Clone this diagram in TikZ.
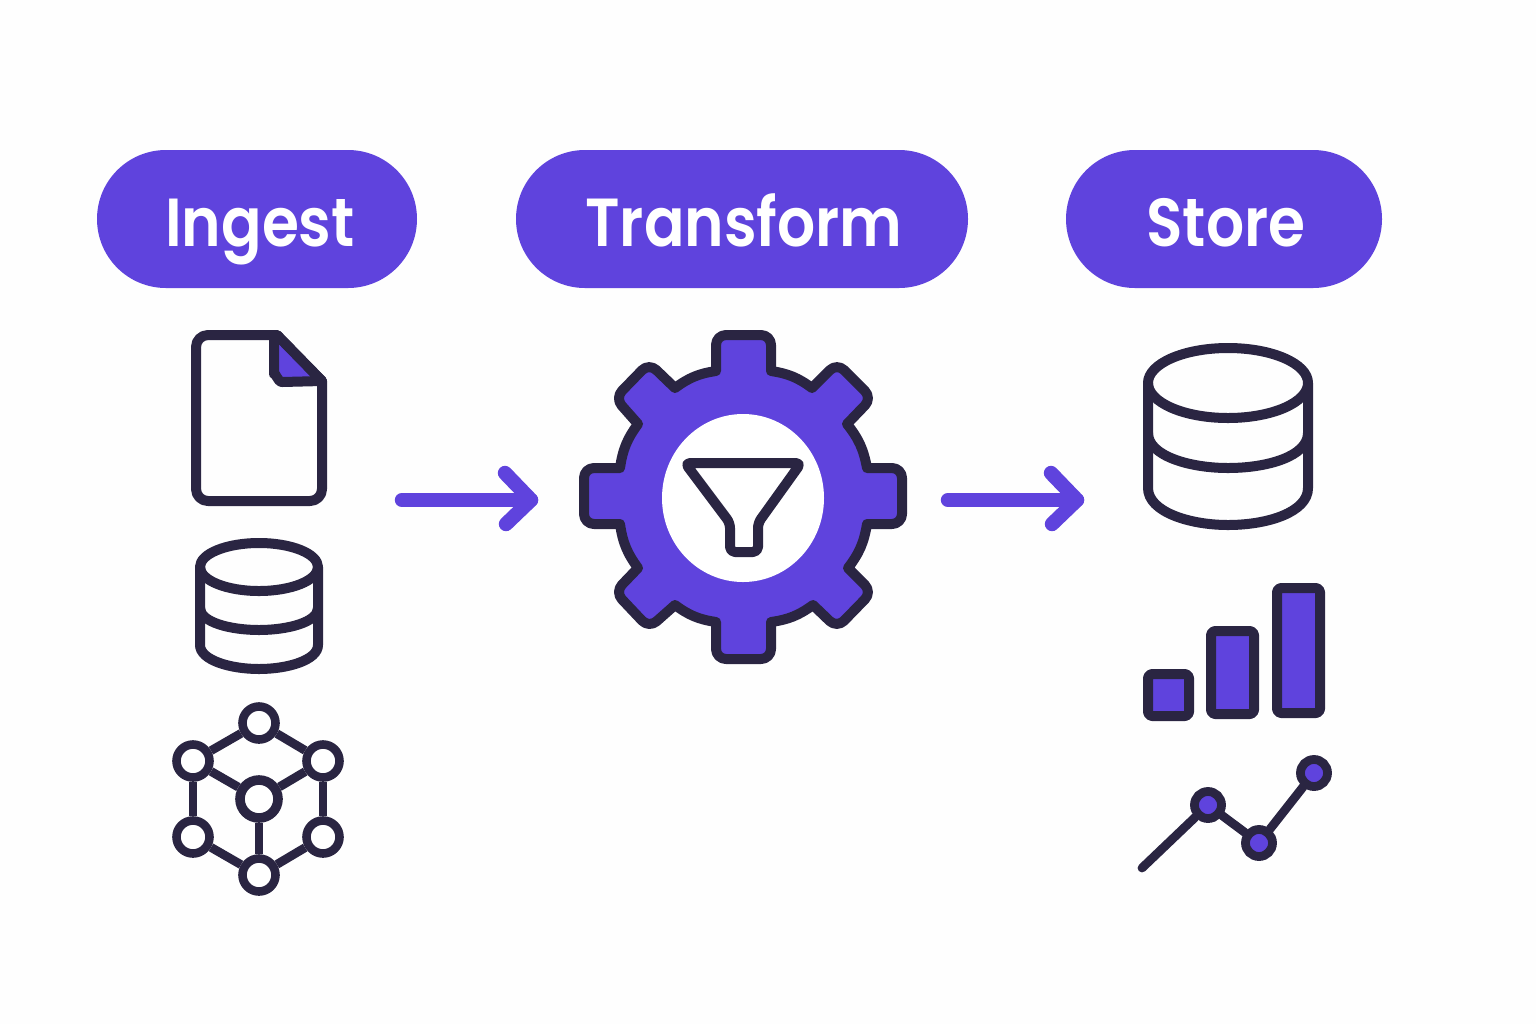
\documentclass[tikz,border=0pt]{standalone}
\usepackage{fontspec}
\newfontfamily\pillfont[UprightFont=* SemiBold,FakeStretch=0.88]{Poppins}
\definecolor{violet}{HTML}{5F43DD}
\definecolor{ink}{HTML}{2A2542}
\tikzset{
  pill/.style={fill=violet,rounded corners=34.5pt,minimum height=69pt,text=white,inner sep=0pt,text height=27pt,text depth=0pt,font=\pillfont\fontsize{34pt}{34pt}\selectfont},
  icon/.style={draw=ink,line width=5pt,line join=round,line cap=round},
  thin icon/.style={draw=ink,line width=4.4pt,line join=round,line cap=round},
  flow/.style={draw=violet,line width=7.2pt,line cap=round,line join=round},
  hub/.style={circle,draw=ink,line width=4.3pt,fill=white,minimum size=16.5pt,inner sep=0pt},
  bighub/.style={circle,draw=ink,line width=4.8pt,fill=white,minimum size=19pt,inner sep=0pt},
  dot/.style={circle,draw=ink,line width=4.4pt,fill=violet,minimum size=13.5pt,inner sep=0pt},
}
\begin{document}
\begin{tikzpicture}[x=0.5pt,y=-0.5pt]
\useasboundingbox (0,0) rectangle (1536,1024);
\fill[white!99.5!black] (0,0) rectangle (1536,1024);
% pills
\node[pill,minimum width=160pt] (ingest) at (257,219) {\hspace*{3pt}Ingest};
\node[pill,minimum width=226pt] (transform) at (742,219) {\hspace*{2pt}Transform};
\node[pill,minimum width=158pt] (store) at (1224,219) {\hspace*{2pt}Store};
% document
\draw[icon,fill=violet] (277,335) -- (322,381) -- (282,382) to[out=180,in=90] (274,374) -- (274,335) -- cycle;
\draw[icon] (277,335) -- (208,335) to[out=180,in=90] (196,347) -- (196,489) to[out=-90,in=180] (208,501) -- (310,501) to[out=0,in=-90] (322,489) -- (322,381) -- cycle;
% small cylinder
\draw[icon] (200,567) -- (200,645) .. controls (200,660) and (230,669) .. (259,669) .. controls (288,669) and (318,660) .. (318,645) -- (318,567);
\draw[icon] (200,608) .. controls (200,622) and (230,630) .. (259,630) .. controls (288,630) and (318,622) .. (318,608);
\draw[icon] (259,567) ellipse[x radius=59,y radius=24];
% network
\node[hub] (n1) at (259,723) {};
\node[hub] (n2) at (193,761) {};
\node[hub] (n3) at (323,761) {};
\node[hub] (n4) at (193,837) {};
\node[hub] (n5) at (323,837) {};
\node[hub] (n6) at (259,875) {};
\node[bighub] (n0) at (259,799) {};
\foreach \a/\b in {n1/n2,n1/n3,n2/n0,n3/n0,n2/n4,n3/n5,n4/n6,n5/n6,n0/n6} \draw[thin icon,line cap=butt] (\a) -- (\b);
% gear
\draw[icon,fill=violet]
 (771,371) to[bend left=14] (812,388)
 [rounded corners=5pt] -- (837,363) -- (872,398) [sharp corners] -- (847,424) to[bend left=14] (867,468)
 [rounded corners=5pt] -- (902,468) -- (902,524) [sharp corners] -- (867,524) to[bend left=14] (848,568)
 [rounded corners=5pt] -- (872,592) -- (837,628) [sharp corners] -- (813,605) to[bend left=14] (771,622)
 [rounded corners=5pt] -- (771,659) -- (716,659) [sharp corners] -- (716,622) to[bend left=14] (675,605)
 [rounded corners=5pt] -- (649,628) -- (615,592) [sharp corners] -- (638,568) to[bend left=14] (620,524)
 [rounded corners=5pt] -- (584,524) -- (584,468) [sharp corners] -- (620,468) to[bend left=14] (638,424)
 [rounded corners=5pt] -- (615,398) -- (649,363) [sharp corners] -- (675,388) to[bend left=14] (716,371)
 [rounded corners=5pt] -- (716,335) -- (771,335) [sharp corners] -- cycle;
\fill[white] (743,498) ellipse[x radius=81,y radius=84];
\draw[icon,rounded corners=2.5pt] (685,463) -- (801,463) -- (758,523) -- (758,552) -- (730,552) -- (730,523) -- cycle;
% arrows
\coordinate (a1s) at (402,500); \coordinate (a1e) at (531,500);
\coordinate (a2s) at (948,500); \coordinate (a2e) at (1077,500);
\draw[flow] (a1s) -- (a1e);
\draw[flow] ([shift={(-26,-27)}]a1e) -- (a1e) -- ([shift={(-25,24)}]a1e);
\draw[flow] (a2s) -- (a2e);
\draw[flow] ([shift={(-26,-27)}]a2e) -- (a2e) -- ([shift={(-25,24)}]a2e);
% big cylinder
\draw[icon] (1148,383) -- (1148,488) .. controls (1148,512) and (1190,525) .. (1228,525) .. controls (1268,525) and (1308,512) .. (1308,488) -- (1308,383);
\draw[icon] (1148,433) .. controls (1148,456) and (1190,468) .. (1228,468) .. controls (1268,468) and (1308,456) .. (1308,433);
\draw[icon] (1228,383) ellipse[x radius=80,y radius=35];
% bars
\draw[icon,fill=violet,rounded corners=2pt] (1148,674) rectangle (1189,716);
\draw[icon,fill=violet,rounded corners=2pt] (1211,631) rectangle (1254,714);
\draw[icon,fill=violet,rounded corners=2pt] (1277,588) rectangle (1320,713);
% line chart
\coordinate (l0) at (1142,868);
\node[dot] (d1) at (1208,805) {};
\node[dot] (d2) at (1259,843) {};
\node[dot] (d3) at (1314,773) {};
\draw[thin icon] (l0) -- (d1);
\draw[thin icon] (d1) -- (d2);
\draw[thin icon] (d2) -- (d3);
\end{tikzpicture}
\end{document}
